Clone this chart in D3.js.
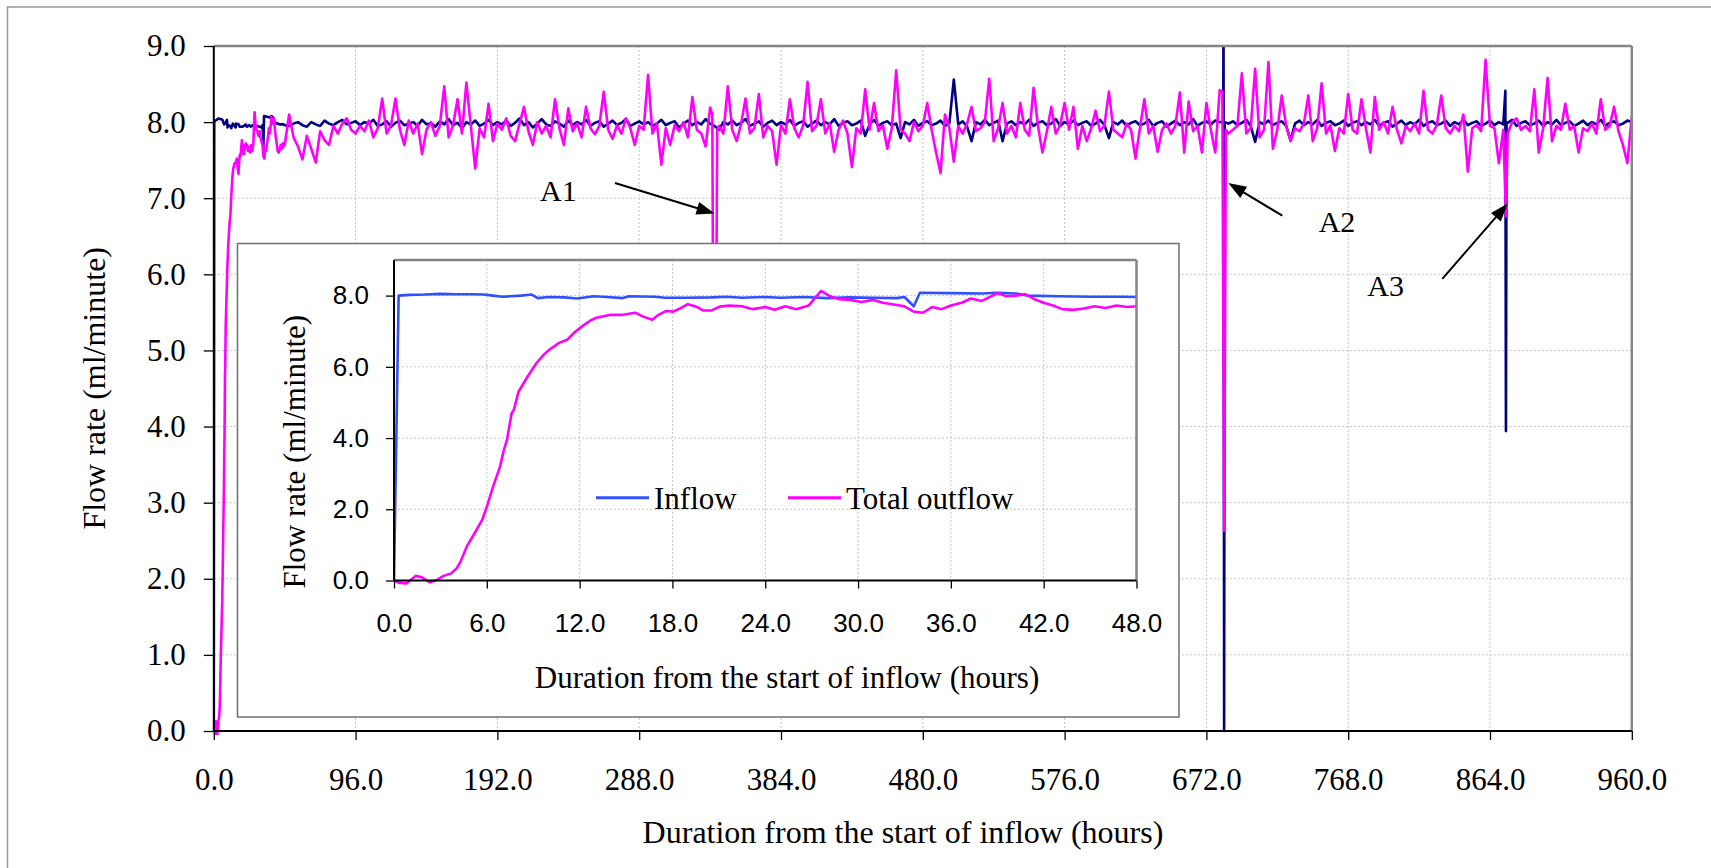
<!DOCTYPE html>
<html>
<head>
<meta charset="utf-8">
<script src="https://cdnjs.cloudflare.com/ajax/libs/d3/7.8.5/d3.min.js"></script>
<style>
  html, body { margin: 0; padding: 0; background: #fff; }
  svg { display: block; }
  text { font-family: "Liberation Serif", "Times New Roman", serif; fill: #000; }
</style>
</head>
<body>
<svg id="chart" width="1711" height="868"></svg>
<script>
// ---- data ----
const mainTicksX = [0, 96, 192, 288, 384, 480, 576, 672, 768, 864, 960];
const mainTicksY = [0, 1, 2, 3, 4, 5, 6, 7, 8, 9];
const insetTicksX = [0, 6, 12, 18, 24, 30, 36, 42, 48];
const insetTicksY = [0, 2, 4, 6, 8];
const seriesNames = ["Inflow", "Total outflow"];

// first 48 hours, [hour, ml/min]
const insetInflow = [
  [0, 0], [0.3, 8.0], [1.0, 8.02], [2.0, 8.03], [3.0, 8.05], [4.0, 8.04], [5.0, 8.04], [5.8, 8.03],
  [6.4, 8.0], [7.0, 7.97], [7.5, 7.98], [8.2, 8.0], [8.9, 8.03], [9.3, 7.93], [10.0, 7.96], [11.0, 7.95],
  [11.85, 7.92], [12.9, 7.98], [13.5, 7.97], [14.8, 7.93], [15.2, 7.98], [16.9, 7.97], [17.5, 7.94],
  [19.0, 7.94], [20.5, 7.95], [21.5, 7.97], [22.5, 7.94], [24.0, 7.96], [25.0, 7.94], [26.5, 7.96],
  [28.0, 7.93], [29.5, 7.95], [31.0, 7.94], [32.5, 7.93], [33.0, 7.96], [33.6, 7.7], [34.0, 8.08],
  [36.0, 8.07], [38.0, 8.06], [39.0, 8.08], [40.2, 8.06], [41.0, 8.0], [43.0, 7.98], [45.0, 7.97],
  [47.0, 7.97], [48.0, 7.96]
];
const insetOutflow = [
  [0, 0], [0.3, -0.06], [0.8, -0.08], [1.1, 0.02], [1.4, 0.13], [1.8, 0.09], [2.3, -0.05], [2.7, 0.0],
  [3.2, 0.13], [3.7, 0.2], [4.05, 0.34], [4.3, 0.53], [4.7, 0.95], [5.2, 1.32], [5.7, 1.7], [6.0, 2.07],
  [6.4, 2.63], [6.85, 3.19], [7.1, 3.66], [7.3, 3.94], [7.6, 4.69], [7.75, 4.8], [8.05, 5.3], [8.6, 5.7],
  [9.2, 6.1], [9.7, 6.35], [10.1, 6.5], [10.7, 6.68], [11.2, 6.76], [11.7, 6.98], [12.2, 7.15],
  [12.7, 7.3], [13.1, 7.38], [14.0, 7.46], [14.8, 7.46], [15.6, 7.52], [16.1, 7.41], [16.7, 7.32],
  [17.1, 7.46], [17.6, 7.57], [18.05, 7.55], [18.5, 7.64], [19.0, 7.76], [19.6, 7.68], [20.0, 7.58],
  [20.5, 7.58], [21.05, 7.69], [21.7, 7.72], [22.5, 7.7], [23.2, 7.62], [24.0, 7.68], [24.6, 7.6],
  [25.3, 7.7], [26.0, 7.62], [26.8, 7.72], [27.6, 8.13], [28.2, 7.98], [28.8, 7.9], [29.5, 7.88],
  [30.2, 7.82], [31.0, 7.88], [31.6, 7.8], [32.3, 7.75], [33.0, 7.7], [33.6, 7.55], [34.2, 7.52],
  [34.8, 7.68], [35.4, 7.62], [36.0, 7.72], [36.7, 7.8], [37.3, 7.92], [38.0, 7.85], [38.6, 7.98],
  [39.0, 8.07], [39.6, 7.98], [40.2, 8.0], [40.8, 8.04], [41.4, 7.9], [42.0, 7.8], [42.6, 7.72],
  [43.2, 7.62], [43.9, 7.6], [44.6, 7.64], [45.3, 7.7], [46.0, 7.65], [46.7, 7.72], [47.4, 7.68], [48.0, 7.7]
];

// after 48 h: one reading every 3 hours, from hour 51 to hour 960
const steadyStart = 51;
const steadyStep = 3;
const inflowSteady = [
  7.95, 7.98, 8.00, 7.96, 7.94, 8.00, 7.97, 7.95, 8.02, 7.98, 7.96, 8.00, 8.03, 7.97, 7.99, 8.01,
  7.96, 8.00, 7.98, 8.03, 7.95, 7.97, 8.01, 7.94, 7.99, 8.02, 7.96, 7.98, 8.00, 7.95, 8.03, 7.97,
  7.99, 7.94, 8.01, 7.97, 8.04, 7.96, 7.99, 7.92, 8.00, 7.97, 8.02, 7.95, 7.98, 8.03, 7.96, 8.00,
  7.97, 8.02, 7.95, 7.99, 8.05, 7.96, 8.00, 7.93, 7.98, 8.04, 7.97, 7.95, 8.01, 7.98, 7.94, 8.02,
  7.96, 8.00, 7.97, 8.03, 7.95, 7.99, 8.01, 7.94, 7.98, 8.02, 7.96, 7.99, 8.04, 7.95, 7.98, 8.01,
  7.97, 8.00, 7.95, 7.98, 8.03, 7.96, 7.99, 8.01, 7.93, 7.98, 8.02, 7.96, 8.00, 7.97, 8.04, 7.98,
  7.95, 7.90, 8.00, 7.97, 8.02, 7.96, 7.99, 8.04, 7.95, 7.98, 8.01, 7.94, 7.99, 8.02, 7.96, 8.00,
  7.97, 8.03, 7.95, 7.99, 8.01, 7.94, 7.98, 8.02, 7.96, 8.00, 7.97, 8.04, 7.95, 7.99, 8.01, 7.96,
  7.98, 8.02, 7.82, 7.97, 8.03, 7.95, 7.99, 8.01, 7.96, 7.98, 7.79, 8.00, 7.97, 8.03, 7.95, 7.99,
  8.01, 7.96, 7.98, 8.02, 7.95, 7.99, 8.56, 7.97, 8.01, 7.94, 7.75, 8.00, 7.97, 8.03, 7.96, 7.99,
  8.02, 7.75, 7.98, 8.01, 7.96, 8.00, 7.97, 8.03, 7.95, 7.99, 8.01, 7.96, 7.98, 8.04, 7.95, 8.00,
  7.97, 8.02, 7.96, 7.99, 8.01, 7.95, 7.98, 8.03, 7.96, 7.79, 8.00, 7.97, 8.02, 7.95, 7.99, 8.01,
  7.96, 7.98, 8.03, 7.95, 7.99, 8.01, 7.94, 7.98, 8.02, 7.96, 8.00, 7.97, 8.04, 7.95, 7.99, 8.01,
  7.97, 8.02, 8.00, 0.00, 7.98, 8.01, 7.96, 7.99, 8.03, 7.95, 7.74, 8.00, 7.97, 8.02, 7.96, 7.99,
  8.01, 7.95, 7.76, 7.98, 8.02, 7.96, 8.00, 7.97, 8.03, 7.95, 7.99, 8.01, 7.96, 7.98, 8.02, 7.95,
  7.99, 8.01, 7.96, 8.00, 7.97, 8.03, 7.95, 7.99, 8.01, 7.94, 7.98, 8.02, 7.96, 8.00, 7.97, 8.03,
  7.95, 7.99, 8.01, 7.96, 7.98, 8.02, 7.95, 8.00, 7.97, 8.03, 7.96, 7.99, 8.01, 7.95, 7.98, 8.02,
  7.96, 8.00, 7.97, 7.99, 8.03, 7.95, 7.99, 8.01, 7.96, 7.98, 8.02, 7.95, 8.00, 7.97, 8.03, 7.96,
  7.99, 8.01, 7.95, 7.98, 8.02, 7.96, 8.00, 7.97, 8.03, 7.95, 7.99, 8.01, 7.96, 7.98, 8.02, 8.00
];
const outflowSteady = [
  8.10, 7.80, 7.68, 7.51, 7.82, 7.65, 7.47, 7.88, 7.76, 7.70, 7.95, 7.85, 7.98, 8.05, 7.90, 7.85,
  7.95, 7.88, 8.02, 7.80, 7.92, 8.31, 7.85, 7.96, 8.31, 7.90, 7.70, 8.02, 7.85, 7.98, 7.58, 7.90,
  8.00, 7.82, 7.95, 8.47, 7.80, 7.96, 8.30, 7.85, 8.52, 7.95, 7.39, 7.92, 7.80, 8.24, 7.75, 7.98,
  7.90, 8.05, 7.82, 7.75, 7.98, 8.20, 7.88, 7.70, 8.00, 7.85, 7.95, 7.80, 8.30, 7.92, 7.70, 8.18,
  7.88, 7.98, 7.80, 8.20, 7.92, 7.84, 7.95, 8.40, 7.90, 7.78, 7.96, 7.85, 8.05, 7.92, 7.70, 7.95,
  7.90, 8.62, 7.85, 7.98, 7.44, 7.92, 7.70, 7.96, 7.88, 8.00, 7.80, 8.33, 7.90, 7.85, 7.68, 8.19,
  1.00, 7.95, 7.85, 8.47, 7.90, 7.75, 7.98, 8.31, 7.85, 7.92, 8.37, 7.80, 7.95, 7.88, 7.44, 7.96,
  7.85, 8.30, 7.92, 7.80, 7.96, 8.53, 7.88, 7.95, 8.30, 7.85, 7.98, 7.61, 7.90, 8.02, 7.85, 7.41,
  7.92, 7.85, 8.43, 7.90, 8.25, 7.88, 7.96, 7.65, 7.92, 8.68, 7.90, 7.85, 7.75, 8.00, 7.88, 7.95,
  8.25, 7.90, 7.60, 7.33, 8.10, 7.92, 7.48, 7.95, 7.85, 7.98, 8.20, 7.88, 7.92, 8.00, 8.57, 7.75,
  7.92, 8.25, 7.85, 7.95, 7.80, 8.25, 7.90, 7.82, 8.45, 7.95, 7.60, 7.88, 8.20, 7.85, 7.96, 8.25,
  7.90, 8.20, 7.65, 7.95, 7.75, 7.92, 8.15, 7.88, 7.96, 8.40, 7.90, 7.85, 7.80, 7.98, 7.90, 7.52,
  7.92, 8.30, 7.85, 7.95, 7.61, 7.90, 7.98, 7.85, 7.95, 8.39, 7.60, 8.27, 7.88, 7.95, 7.60, 8.25,
  7.90, 7.60, 8.42, 2.63, 7.85, 7.90, 7.95, 8.64, 7.85, 7.92, 8.70, 7.80, 7.90, 8.79, 7.65, 7.90,
  8.35, 7.95, 7.75, 7.92, 7.88, 7.98, 8.35, 7.75, 7.92, 8.51, 7.85, 7.96, 7.62, 7.92, 7.85, 8.37,
  7.90, 7.85, 8.30, 7.92, 7.60, 8.33, 7.90, 8.00, 7.85, 8.20, 7.90, 7.72, 7.95, 7.88, 7.98, 7.85,
  8.41, 7.90, 7.85, 7.96, 8.35, 7.92, 7.85, 7.95, 7.88, 8.10, 7.35, 7.92, 7.96, 7.88, 8.82, 7.95,
  7.92, 7.46, 7.90, 7.85, 8.00, 8.05, 7.90, 7.95, 7.88, 8.43, 7.60, 7.92, 8.58, 7.75, 7.95, 7.90,
  8.24, 7.90, 7.95, 7.60, 7.92, 7.88, 7.98, 7.85, 8.30, 7.90, 7.95, 8.20, 7.88, 7.70, 7.46, 8.07
];
// short disturbances between the 3-hour readings (A1, A2, A3)
const inflowEvents = [[683.4, 8.0], [683.6, 9.6], [684.4, 8.0], [874.4, 8.41], [874.8, 3.94], [875.2, 8.0]];
const outflowEvents = [[337.5, 8.1], [340.8, 7.9], [682.8, 8.4], [685.2, 7.9], [874.8, 6.76]];

// annotation labels, [label, labelHour, labelValue, fromHour, fromValue, toHour, toValue]
const notes = [
  ["A1", 220.9, 6.96, 271.6, 7.20, 339.0, 6.80],
  ["A2", 748.0, 6.56, 723.4, 6.77, 686.8, 7.20],
  ["A3", 780.9, 5.72, 831.7, 5.94, 876.0, 6.93]
];

// ---- build ----
function buildSeries(early, steady, events) {
  const pts = early.map(d => ({h: d[0], v: d[1]}));
  steady.forEach((v, i) => pts.push({h: steadyStart + i * steadyStep, v: v}));
  events.forEach(d => pts.push({h: d[0], v: d[1]}));
  pts.sort((a, b) => a.h - b.h);
  return pts;
}
const mainInflow = buildSeries(insetInflow, inflowSteady, inflowEvents);
const mainOutflow = buildSeries(insetOutflow, outflowSteady, outflowEvents);

const svg = d3.select("#chart");
const fmt = d3.format(".1f");

// outer frame
svg.append("rect")
    .attr("x", 7.5).attr("y", 7)
    .attr("width", 1750).attr("height", 900)
    .attr("fill", "#fff")
    .attr("stroke", "#9a9a9a")
    .attr("stroke-width", 1.5);

// ---- main chart ----
const x = d3.scaleLinear().domain([0, 960]).range([213.8, 1631.8]);
const y = d3.scaleLinear().domain([0, 9]).range([731, 46]);

const grid = svg.append("g").attr("stroke", "#c4c4c4").attr("stroke-width", 1).attr("stroke-dasharray", "2,2");
mainTicksX.slice(1, -1).forEach(t => {
    grid.append("line").attr("x1", x(t)).attr("x2", x(t)).attr("y1", y(9)).attr("y2", y(0));
});
mainTicksY.slice(1, -1).forEach(t => {
    grid.append("line").attr("x1", x(0)).attr("x2", x(960)).attr("y1", y(t)).attr("y2", y(t));
});

svg.append("clipPath").attr("id", "mainClip")
    .append("rect")
    .attr("x", x(0)).attr("y", y(9))
    .attr("width", x(960) - x(0) + 2).attr("height", y(0) - y(9) + 4);

const line = d3.line().x(d => x(d.h)).y(d => y(d.v));
const series = svg.append("g").attr("clip-path", "url(#mainClip)");
series.append("path").datum(mainInflow)
    .attr("d", line)
    .attr("fill", "none").attr("stroke", "#000080")
    .attr("stroke-width", 2.6).attr("stroke-linejoin", "round");
series.append("path").datum(mainOutflow)
    .attr("d", line)
    .attr("fill", "none").attr("stroke", "#ff00ff")
    .attr("stroke-width", 2.6).attr("stroke-linejoin", "round");

// frame: gray top/right, black axes
svg.append("line").attr("x1", x(0)).attr("x2", x(960)).attr("y1", y(9)).attr("y2", y(9))
    .attr("stroke", "#858585").attr("stroke-width", 2.5);
svg.append("line").attr("x1", x(960)).attr("x2", x(960)).attr("y1", y(9)).attr("y2", y(0))
    .attr("stroke", "#858585").attr("stroke-width", 2.5);

const yAxis = svg.append("g")
    .attr("transform", "translate(" + x(0) + ",0)")
    .call(d3.axisLeft(y).tickValues(mainTicksY).tickFormat(fmt).tickSize(10).tickPadding(18));
const xAxis = svg.append("g")
    .attr("transform", "translate(0," + y(0) + ")")
    .call(d3.axisBottom(x).tickValues(mainTicksX).tickFormat(fmt).tickSize(9));
[yAxis, xAxis].forEach(g => {
    g.select(".domain").attr("stroke", "#000").attr("stroke-width", 2);
    g.selectAll(".tick line").attr("stroke", "#000").attr("stroke-width", 1.3);
    g.selectAll("text")
        .style("font-family", "'Liberation Serif', 'Times New Roman', serif")
        .style("font-size", "31px");
});
yAxis.select(".domain").attr("d", "M0," + y(9) + "V" + y(0));
xAxis.select(".domain").attr("d", "M" + x(0) + ",0H" + x(960));
xAxis.selectAll("text").attr("y", 59).attr("dy", 0);

svg.append("text")
    .attr("transform", "translate(105,388.3) rotate(-90)")
    .attr("text-anchor", "middle")
    .style("font-size", "32px")
    .text("Flow rate (ml/minute)");
svg.append("text")
    .attr("x", 903).attr("y", 843)
    .attr("text-anchor", "middle")
    .style("font-size", "32px")
    .text("Duration from the start of inflow (hours)");

// ---- inset ----
svg.append("rect")
    .attr("x", 237.5).attr("y", 243.5)
    .attr("width", 941.5).attr("height", 473.5)
    .attr("fill", "#fff")
    .attr("stroke", "#707070")
    .attr("stroke-width", 1.5);

const xi = d3.scaleLinear().domain([0, 48]).range([394, 1136.5]);
const yi = d3.scaleLinear().domain([0, 9]).range([580.5, 260]);

const igrid = svg.append("g").attr("stroke", "#c4c4c4").attr("stroke-width", 1).attr("stroke-dasharray", "2,2");
insetTicksX.slice(1, -1).forEach(t => {
    igrid.append("line").attr("x1", xi(t)).attr("x2", xi(t)).attr("y1", yi(9)).attr("y2", yi(0));
});
insetTicksY.slice(1).forEach(t => {
    igrid.append("line").attr("x1", xi(0)).attr("x2", xi(48)).attr("y1", yi(t)).attr("y2", yi(t));
});

svg.append("clipPath").attr("id", "insetClip")
    .append("rect")
    .attr("x", xi(0)).attr("y", yi(9))
    .attr("width", xi(48) - xi(0)).attr("height", yi(0) - yi(9) + 6);

const iline = d3.line().x(d => xi(d[0])).y(d => yi(d[1]));
const iseries = svg.append("g").attr("clip-path", "url(#insetClip)");
iseries.append("path").datum(insetInflow)
    .attr("d", iline)
    .attr("fill", "none").attr("stroke", "#3050ff")
    .attr("stroke-width", 2.6).attr("stroke-linejoin", "round");
iseries.append("path").datum(insetOutflow)
    .attr("d", iline)
    .attr("fill", "none").attr("stroke", "#ff00ff")
    .attr("stroke-width", 2.6).attr("stroke-linejoin", "round");

svg.append("line").attr("x1", xi(0)).attr("x2", xi(48)).attr("y1", yi(9)).attr("y2", yi(9))
    .attr("stroke", "#858585").attr("stroke-width", 2.5);
svg.append("line").attr("x1", xi(48)).attr("x2", xi(48)).attr("y1", yi(9)).attr("y2", yi(0))
    .attr("stroke", "#858585").attr("stroke-width", 2.5);

const iyAxis = svg.append("g")
    .attr("transform", "translate(" + xi(0) + ",0)")
    .call(d3.axisLeft(yi).tickValues(insetTicksY).tickFormat(fmt).tickSize(8).tickPadding(17));
const ixAxis = svg.append("g")
    .attr("transform", "translate(0," + yi(0) + ")")
    .call(d3.axisBottom(xi).tickValues(insetTicksX).tickFormat(fmt).tickSize(8));
[iyAxis, ixAxis].forEach(g => {
    g.select(".domain").attr("stroke", "#000").attr("stroke-width", 2);
    g.selectAll(".tick line").attr("stroke", "#000").attr("stroke-width", 1.3);
    g.selectAll("text")
        .style("font-family", "'Liberation Sans', Arial, sans-serif")
        .style("font-size", "26px");
});
iyAxis.select(".domain").attr("d", "M0," + yi(9) + "V" + yi(0));
ixAxis.select(".domain").attr("d", "M" + xi(0) + ",0H" + xi(48));
ixAxis.selectAll("text").attr("y", 51.2).attr("dy", 0);

svg.append("text")
    .attr("transform", "translate(304.5,451.7) rotate(-90)")
    .attr("text-anchor", "middle")
    .style("font-size", "31px")
    .text("Flow rate (ml/minute)");
svg.append("text")
    .attr("x", 787).attr("y", 688)
    .attr("text-anchor", "middle")
    .style("font-size", "31px")
    .text("Duration from the start of inflow (hours)");

// legend
const legendColors = ["#3050ff", "#ff00ff"];
const legendX = [596, 788];
const legend = svg.append("g");
seriesNames.forEach((name, i) => {
    legend.append("line")
        .attr("x1", legendX[i]).attr("x2", legendX[i] + 53)
        .attr("y1", 497.7).attr("y2", 497.7)
        .attr("stroke", legendColors[i]).attr("stroke-width", 3);
    legend.append("text")
        .attr("x", legendX[i] + 58).attr("y", 509)
        .style("font-size", "31px")
        .text(name);
});

// ---- annotations ----
const ann = svg.append("g");
notes.forEach(n => {
    ann.append("text")
        .attr("x", x(n[1])).attr("y", y(n[2]))
        .style("font-size", "30px")
        .text(n[0]);
    const sx = x(n[3]), sy = y(n[4]), tx = x(n[5]), ty = y(n[6]);
    const len = Math.hypot(tx - sx, ty - sy);
    const ux = (tx - sx) / len, uy = (ty - sy) / len;
    const headLen = 18, headHalf = 6.5;
    const bx = tx - ux * headLen, by = ty - uy * headLen;
    ann.append("line")
        .attr("x1", sx).attr("y1", sy).attr("x2", bx + ux * 2).attr("y2", by + uy * 2)
        .attr("stroke", "#000").attr("stroke-width", 2);
    ann.append("path")
        .attr("d", "M" + tx + "," + ty +
                   "L" + (bx - uy * headHalf) + "," + (by + ux * headHalf) +
                   "L" + (bx + uy * headHalf) + "," + (by - ux * headHalf) + "Z")
        .attr("fill", "#000");
});
</script>
</body>
</html>
